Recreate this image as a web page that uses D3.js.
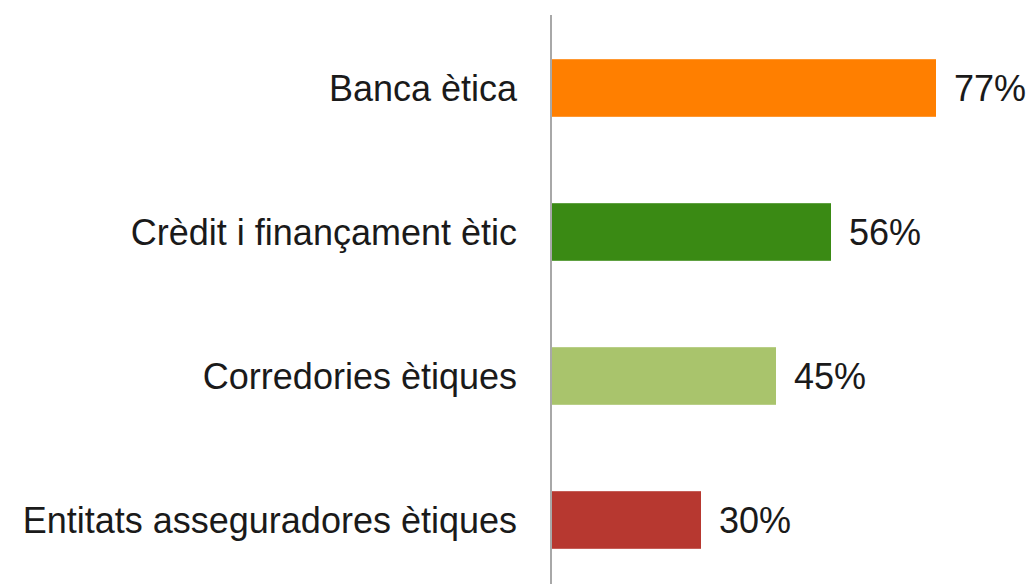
<!DOCTYPE html>
<html>
<head>
<meta charset="utf-8">
<script src="https://cdn.jsdelivr.net/npm/d3@7"></script>
<style>
	body { margin: 0; background: #fff; }
	text { font-family: "Liberation Sans", Helvetica, Arial, sans-serif; fill: #1a1a1a; }
</style>
</head>
<body>
<div id="chart"></div>
<script>
// chart data
const categories = ["Banca ètica", "Crèdit i finançament ètic", "Corredories ètiques", "Entitats asseguradores ètiques"];
const values = [77, 56, 45, 30];
const colors = ["#ff7f00", "#3a8a14", "#a9c46c", "#b73830"];

const width = 1031, height = 584;
const axisX = 551;

var svg = d3.select("#chart")
	.append("svg")
	.attr("width", width)
	.attr("height", height);

var x = d3.scaleLinear()
	.domain([0, 100])
	.range([axisX, axisX + 500]);

var y = d3.scaleBand()
	.domain(categories)
	.range([16, 592])
	.paddingInner(0.6)
	.paddingOuter(0.3);

// bars
svg.selectAll(".bar")
	.data(categories)
	.enter().append("rect")
	.attr("class", "bar")
	.attr("x", x(0))
	.attr("y", d => y(d))
	.attr("width", (d, i) => x(values[i]) - x(0))
	.attr("height", y.bandwidth())
	.attr("fill", (d, i) => colors[i]);

// vertical axis line
svg.append("line")
	.attr("x1", axisX).attr("x2", axisX)
	.attr("y1", 15).attr("y2", height)
	.attr("stroke", "#a8a8a8")
	.attr("stroke-width", 2);

// category labels
svg.selectAll(".cat")
	.data(categories)
	.enter().append("text")
	.attr("class", "cat")
	.attr("x", axisX - 34)
	.attr("y", d => y(d) + y.bandwidth() / 2)
	.attr("dy", "0.36em")
	.attr("text-anchor", "end")
	.style("font-size", "36px")
	.text(d => d);

// value labels
svg.selectAll(".val")
	.data(categories)
	.enter().append("text")
	.attr("class", "val")
	.attr("x", (d, i) => x(values[i]) + 18)
	.attr("y", d => y(d) + y.bandwidth() / 2)
	.attr("dy", "0.36em")
	.style("font-size", "36px")
	.text((d, i) => values[i] + "%");
</script>
</body>
</html>
